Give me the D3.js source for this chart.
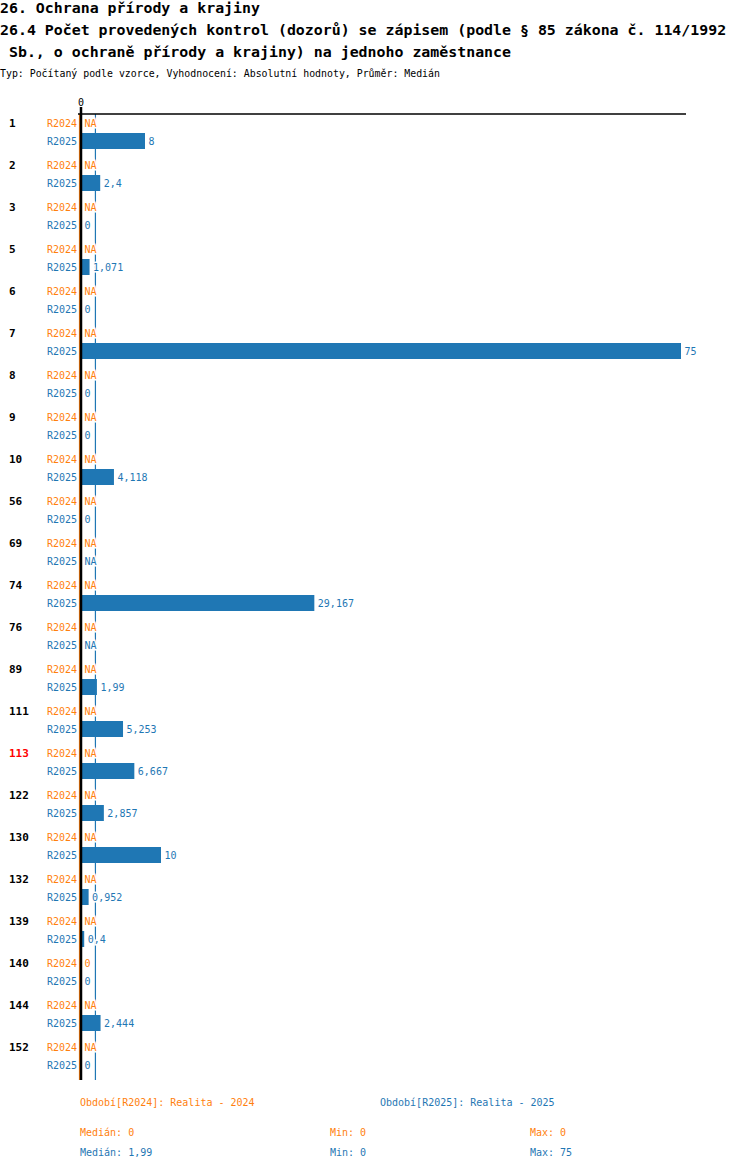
<!DOCTYPE html>
<html>
<head>
<meta charset="utf-8">
<script src="https://cdn.jsdelivr.net/npm/d3@7"></script>
<style>
  body { margin: 0; background: #fff; }
  text { font-family: "DejaVu Sans Mono", monospace; }
</style>
</head>
<body>
<div id="chartArea"></div>
<script>
// chart data
const titleLines = [
    "26. Ochrana přírody a krajiny",
    "26.4 Počet provedených kontrol (dozorů) se zápisem (podle § 85 zákona č. 114/1992",
    " Sb., o ochraně přírody a krajiny) na jednoho zaměstnance"
];
const subtitle = "Typ: Počítaný podle vzorce, Vyhodnocení: Absolutní hodnoty, Průměr: Medián";
const categories = ["1", "2", "3", "5", "6", "7", "8", "9", "10", "56", "69", "74", "76", "89",
    "111", "113", "122", "130", "132", "139", "140", "144", "152"];
const highlightedCategory = "113";
const seriesNames = ["R2024", "R2025"];
const periodLabels = ["Období[R2024]: Realita - 2024", "Období[R2025]: Realita - 2025"];
// null = NA
const valuesR2024 = [null, null, null, null, null, null, null, null, null, null, null, null, null, null,
    null, null, null, null, null, null, 0, null, null];
const valuesR2025 = [8, 2.4, 0, 1.071, 0, 75, 0, 0, 4.118, 0, null, 29.167, null, 1.99,
    5.253, 6.667, 2.857, 10, 0.952, 0.4, 0, 2.444, 0];
const axisTicks = [0];

const colors = { R2024: "#ff7f0e", R2025: "#1f77b4" };

function fmt(v) {
    if (v === null) return "NA";
    return String(v).replace(".", ",");
}

function drawChart() {
    const W = 750, H = 1170;
    const svg = d3.select("#chartArea").append("svg")
        .attr("width", W)
        .attr("height", H);

    // titles
    svg.selectAll("text.title")
        .data(titleLines)
        .enter().append("text")
        .attr("class", "title")
        .attr("x", 0)
        .attr("y", (d, i) => 13 + i * 22)
        .attr("xml:space", "preserve")
        .style("font-size", "14.9px")
        .style("font-weight", "bold")
        .style("fill", "#000")
        .text(d => d);

    svg.append("text")
        .attr("x", 0)
        .attr("y", 77)
        .style("font-size", "9.9px")
        .text(subtitle);

    const series = seriesNames.map((name, i) => ({
        name,
        values: i === 0 ? valuesR2024 : valuesR2025
    }));

    const top = 114, groupH = 42;
    const y = d3.scaleBand().domain(categories).range([top, top + categories.length * groupH]);
    const yInner = d3.scaleBand().domain(seriesNames).range([0, 36]);
    const x = d3.scaleLinear().domain([0, 75]).range([81, 681]);
    const barH = 16;

    // median lines (drawn first, labels cover them)
    series.forEach(s => {
        const med = d3.median(s.values.filter(v => v !== null));
        svg.append("line")
            .attr("x1", x(med) - 1.5).attr("x2", x(med) - 1.5)
            .attr("y1", top).attr("y2", y.range()[1])
            .style("stroke", colors[s.name])
            .style("stroke-width", 1.2);
    });

    const rows = [];
    categories.forEach((c, ci) => {
        series.forEach(s => rows.push({ cat: c, series: s.name, value: s.values[ci] }));
    });

    // bars
    svg.selectAll("rect.bar")
        .data(rows.filter(d => d.value !== null && d.value > 0))
        .enter().append("rect")
        .attr("class", "bar")
        .attr("x", x(0))
        .attr("y", d => y(d.cat) + yInner(d.series) + yInner.bandwidth() / 2 - barH / 2)
        .attr("width", d => x(d.value) - x(0))
        .attr("height", barH)
        .style("fill", d => colors[d.series]);

    // value labels
    svg.selectAll("text.val")
        .data(rows)
        .enter().append("text")
        .attr("class", "val")
        .attr("x", d => (d.value ? x(d.value) : x(0)) + 3.5)
        .attr("y", d => y(d.cat) + yInner(d.series) + yInner.bandwidth() / 2 + 4)
        .style("font-size", "10px")
        .style("fill", d => colors[d.series])
        .style("stroke", "#fff")
        .style("stroke-width", 3)
        .style("paint-order", "stroke")
        .text(d => fmt(d.value));

    // series labels
    svg.selectAll("text.ser")
        .data(rows)
        .enter().append("text")
        .attr("class", "ser")
        .attr("x", 77)
        .attr("y", d => y(d.cat) + yInner(d.series) + yInner.bandwidth() / 2 + 4)
        .attr("text-anchor", "end")
        .style("font-size", "10px")
        .style("fill", d => colors[d.series])
        .text(d => d.series);

    // category labels
    svg.selectAll("text.cat")
        .data(categories)
        .enter().append("text")
        .attr("class", "cat")
        .attr("x", 9)
        .attr("y", d => y(d) + yInner(seriesNames[0]) + yInner.bandwidth() / 2 + 4)
        .style("font-size", "11px")
        .style("font-weight", "bold")
        .style("fill", d => d === highlightedCategory ? "#ff0000" : "#000")
        .text(d => d);

    // axes
    svg.append("line")
        .attr("x1", 78).attr("x2", 686)
        .attr("y1", top).attr("y2", top)
        .style("stroke", "#000").style("stroke-width", 1.5);
    svg.append("line")
        .attr("x1", x(0)).attr("x2", x(0))
        .attr("y1", 107).attr("y2", y.range()[1])
        .style("stroke", "#000").style("stroke-width", 2.5);
    svg.selectAll("text.tick")
        .data(axisTicks)
        .enter().append("text")
        .attr("class", "tick")
        .attr("x", d => x(d))
        .attr("y", 106)
        .attr("text-anchor", "middle")
        .style("font-size", "10px")
        .text(d => d);

    // footer
    const footX = [80, 380];
    svg.selectAll("text.period")
        .data(periodLabels)
        .enter().append("text")
        .attr("class", "period")
        .attr("x", (d, i) => footX[i])
        .attr("y", 1106)
        .style("font-size", "10px")
        .style("fill", (d, i) => colors[seriesNames[i]])
        .text(d => d);

    series.forEach((s, i) => {
        const vals = s.values.filter(v => v !== null);
        const stats = [
            ["Medián: ", d3.median(vals), 80],
            ["Min: ", d3.min(vals), 330],
            ["Max: ", d3.max(vals), 530]
        ];
        stats.forEach(st => {
            svg.append("text")
                .attr("x", st[2])
                .attr("y", 1136 + i * 20)
                .style("font-size", "10px")
                .style("fill", colors[s.name])
                .text(st[0] + fmt(st[1]));
        });
    });
}

drawChart();
</script>
</body>
</html>
